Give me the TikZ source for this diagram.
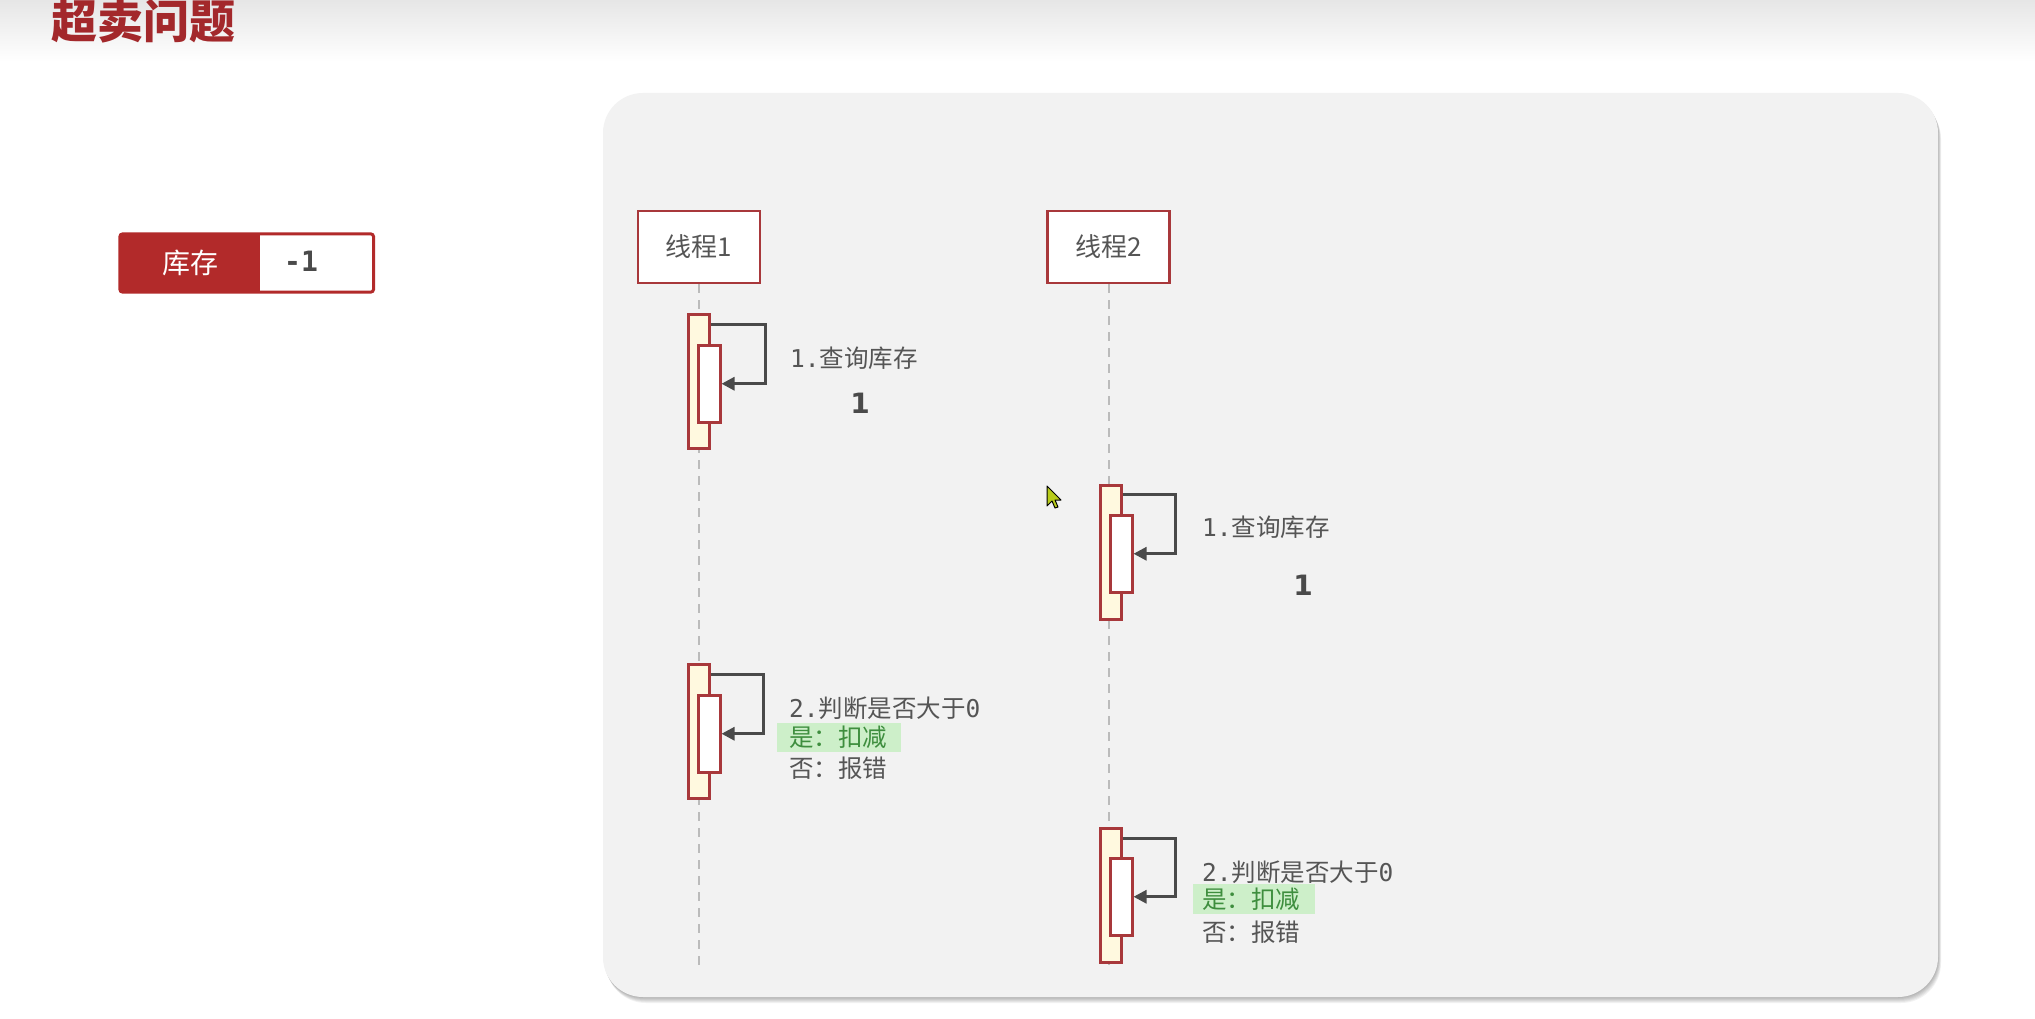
\documentclass[tikz,border=0pt]{standalone}
\usepackage{fontspec}
\setmainfont{Noto Sans CJK SC}
\newfontfamily\cjk{Noto Sans CJK SC}
\newfontfamily\monofnt{DejaVu Sans Mono}
\newfontfamily\numfnt{DejaVu Sans}
\usetikzlibrary{arrows.meta}

\definecolor{titlered}{HTML}{A3282B}
\definecolor{boxred}{HTML}{A8383B}
\definecolor{stockred}{HTML}{B22A2A}
\definecolor{panelgray}{HTML}{F2F2F2}
\definecolor{actfill}{HTML}{FFF9DF}
\definecolor{inkgray}{HTML}{555555}
\definecolor{arrowgray}{HTML}{4A4A4A}
\definecolor{lifegray}{HTML}{BBBBBB}
\definecolor{okbg}{HTML}{CDEFC9}
\definecolor{oktext}{HTML}{3E8E3E}
\definecolor{cursorfill}{HTML}{B8CC1A}

\tikzset{
  threadbox/.style={draw=boxred, line width=2.8pt, fill=white, minimum width=122pt,
    minimum height=72pt, inner sep=0pt, text=inkgray, font=\cjk\fontsize{26}{30}\selectfont},
  actouter/.style={draw=boxred, line width=2.5pt, fill=actfill, minimum width=21pt,
    minimum height=134pt, inner sep=0pt, anchor=north west},
  actinner/.style={draw=boxred, line width=2.5pt, fill=white, minimum width=22pt,
    minimum height=77pt, inner sep=0pt, anchor=north west},
  selfcall/.style={draw=arrowgray, line width=3pt, -{Triangle[length=13pt,width=13pt]}},
  lifeline/.style={draw=lifegray, line width=2pt, dash pattern=on 9pt off 7pt},
  steptext/.style={anchor=west, inner sep=0pt, text=inkgray, font=\fontsize{24.5}{28}\selectfont},
  oktext/.style={steptext, text=oktext},
  okbox/.style={fill=okbg, draw=none},
  resultnum/.style={inner sep=0pt, text=arrowgray, font=\numfnt\bfseries\fontsize{28}{32}\selectfont},
}

\begin{document}
\begin{tikzpicture}[x=1pt, y=-1pt]
\useasboundingbox (0,0) rectangle (2035,1019);
\fill[white] (0,0) rectangle (2035,1019);

% header band and title
\shade[top color={rgb,255:red,230;green,230;blue,230}, bottom color=white] (0,0) rectangle (2035,62);
\node[anchor=west, inner sep=0pt, text=titlered, font=\cjk\bfseries\fontsize{46}{50}\selectfont]
  (title) at (51,21) {超卖问题};

% stock indicator
\node[fill=stockred, minimum width=140pt, minimum height=58pt, inner sep=0pt,
  text=white, font=\cjk\fontsize{28}{32}\selectfont] (stock) at (190,263) {库存};
\node[fill=white, anchor=west, minimum width=113pt, minimum height=58pt, inner sep=0pt]
  (stockval) at (stock.east) {};
\draw[stockred, line width=3pt, rounded corners=3pt] (stock.north west) rectangle (stockval.south east);
\node[inner sep=0pt, text=arrowgray, font=\monofnt\bfseries\fontsize{28}{32}\selectfont]
  (stocknum) at (301,261) {-1};

% panel with soft shadow
\foreach \d in {1,2,3,4,5,6}
  \fill[black, opacity=0.05, rounded corners=40pt] (603+\d*0.5,93+\d) rectangle (1938+\d*0.5,997+\d);
\fill[panelgray, rounded corners=40pt] (603,93) rectangle (1938,997);

% thread headers
\node[threadbox] (t1) at (699,247) {线程1};
\node[threadbox] (t2) at (1108.5,247) {线程2};

% lifelines
\coordinate (t1end) at (699,967);
\coordinate (t2end) at (1108.5,967);
\draw[lifeline] (t1.south) -- (t1end);
\draw[lifeline] (t2.south) -- (t2end);

% thread 1: query
\node[actouter] (a1o) at (687,313) {};
\node[actinner] (a1i) at (697,344) {};
\draw[selfcall] ([yshift=-11pt]a1o.north east) -- ++(55pt,0) |- (a1i.east);
\node[steptext] (q1) at (790,358) {{\monofnt 1.}{\cjk 查询库存}};
\node[resultnum] (r1) at (860,403) {1};

% thread 2: query
\node[actouter] (a2o) at (1099,484) {};
\node[actinner] (a2i) at (1109,514) {};
\draw[selfcall] ([yshift=-10pt]a2o.north east) -- ++(53pt,0) |- (a2i.east);
\node[steptext] (q2) at (1202,527) {{\monofnt 1.}{\cjk 查询库存}};
\node[resultnum] (r2) at (1303,585) {1};

% thread 1: check and decrement
\node[actouter] (a3o) at (687,663) {};
\node[actinner] (a3i) at (697,694) {};
\draw[selfcall] ([yshift=-11pt]a3o.north east) -- ++(53pt,0) |- (a3i.east);
\node[steptext] (c1) at (789,708) {{\monofnt 2.}{\cjk 判断是否大于}{\monofnt 0}};
\fill[okbg] (777,723) rectangle (901,752);
\node[oktext] (y1) at (789,737) {{\cjk 是：扣减}};
\node[steptext] (n1) at (789,768) {{\cjk 否：报错}};

% thread 2: check and decrement
\node[actouter] (a4o) at (1099,827) {};
\node[actinner] (a4i) at (1109,857) {};
\draw[selfcall] ([yshift=-11pt]a4o.north east) -- ++(53pt,0) |- (a4i.east);
\node[steptext] (c2) at (1202,872) {{\monofnt 2.}{\cjk 判断是否大于}{\monofnt 0}};
\fill[okbg] (1193,884) rectangle (1315,914);
\node[oktext] (y2) at (1202,899) {{\cjk 是：扣减}};
\node[steptext] (n2) at (1202,932) {{\cjk 否：报错}};

% mouse pointer
\filldraw[fill=cursorfill, draw=black, line width=1pt, line join=round]
  (1047,486) -- ++(0,20) -- ++(5,-5) -- ++(3,7) -- ++(3,-1) -- ++(-3,-7) -- ++(6,0) -- cycle;
\end{tikzpicture}
\end{document}
